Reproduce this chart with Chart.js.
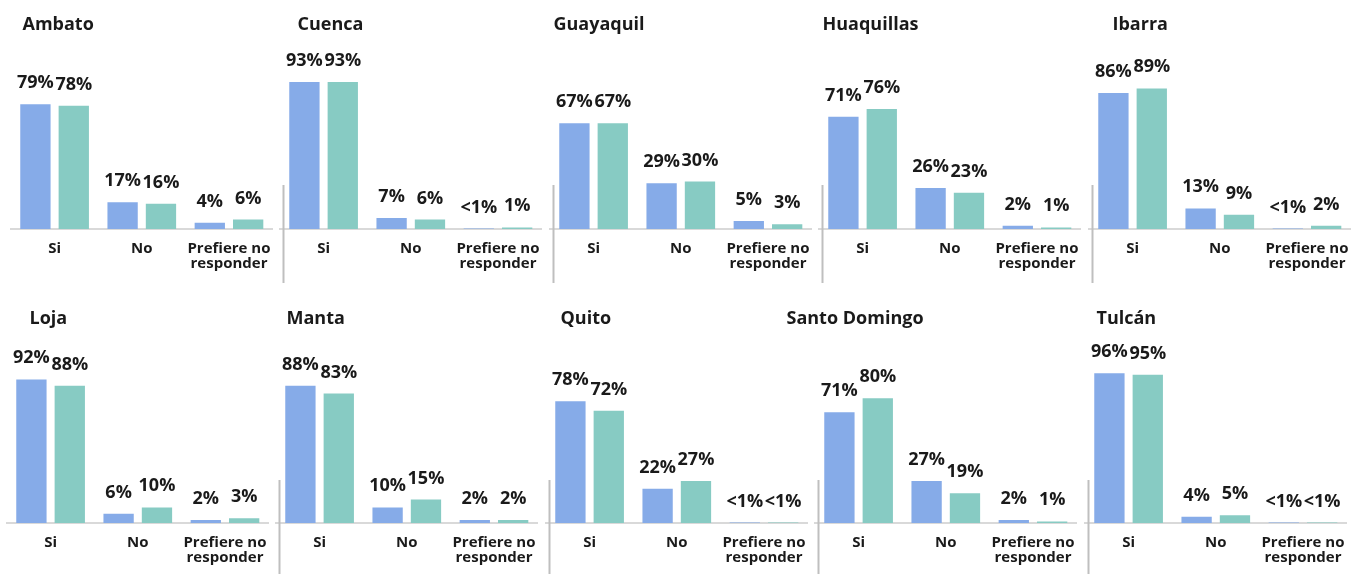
<!DOCTYPE html>
<html lang="es">
<head>
<meta charset="utf-8">
<title>Respuestas por ciudad</title>
<script src="https://cdn.jsdelivr.net/npm/chart.js@4.4.1/dist/chart.umd.min.js"></script>
<style>
  html, body { margin: 0; padding: 0; background: #ffffff; }
  #tablero { position: relative; width: 1354px; height: 574px; overflow: hidden; }
  #tablero canvas { position: absolute; }
</style>
</head>
<body>
<div id="tablero"></div>
<script>
// Ciudades y categorías de respuesta
const ciudades = ['Ambato', 'Cuenca', 'Guayaquil', 'Huaquillas', 'Ibarra',
                  'Loja', 'Manta', 'Quito', 'Santo Domingo', 'Tulcán'];
const categorias = ['Si', 'No', ['Prefiere no', 'responder']];

// Porcentajes por ciudad (Si, No, Prefiere no responder); 0.3 equivale a "<1%"
const serieAzul = [
  [79, 17, 4], [93, 7, 0.3], [67, 29, 5], [71, 26, 2], [86, 13, 0.3],
  [92, 6, 2], [88, 10, 2], [78, 22, 0.3], [71, 27, 2], [96, 4, 0.3]
];
const serieVerde = [
  [78, 16, 6], [93, 6, 1], [67, 30, 3], [76, 23, 1], [89, 9, 2],
  [88, 10, 3], [83, 15, 2], [72, 27, 0.3], [80, 19, 1], [95, 5, 0.3]
];

// Disposición de las dos filas de paneles (px); "plotLeft" es el borde del
// área de barras del primer panel de la fila
const filas = [
  { top: 0,   height: 288, plotTop: 71, axisY: 229, plotLeft: 10.5, sepTop: 185, sepBottom: 283 },
  { top: 290, height: 284, plotTop: 77, axisY: 233, plotLeft: 6.5,  sepTop: 190, sepBottom: 284 }
];
const paso = 269.6;
const anchoArea = 270;
const margenIzq = 50;   // espacio a la izquierda del área para títulos desplazados
const margenDer = 3;
// Desplazamiento horizontal de cada título respecto a la primera barra
const desplazamientoTitulo = [2, 8, -6, -6, 14, 13, 1, 5, -38, 2];

const FUENTE = '"Open Sans", "DejaVu Sans", sans-serif';
const COLOR_TEXTO = '#1a1a1a';

const formatoValor = v => (v < 1 ? '<1%' : Math.round(v) + '%');

// Rótulos de valor, título y separador de cada panel
const decoracion = {
  id: 'decoracion',
  afterDatasetsDraw(chart, args, opts) {
    const ctx = chart.ctx;
    const area = chart.chartArea;
    ctx.save();
    ctx.fillStyle = COLOR_TEXTO;
    ctx.textAlign = 'center';
    ctx.textBaseline = 'alphabetic';
    ctx.font = 'bold 18px ' + FUENTE;
    chart.data.datasets.forEach((ds, di) => {
      chart.getDatasetMeta(di).data.forEach((bar, j) => {
        ctx.fillText(formatoValor(ds.data[j]), bar.x, bar.y - 16);
      });
    });

    ctx.textAlign = 'left';
    ctx.font = 'bold 18px ' + FUENTE;
    ctx.fillText(opts.titulo, area.left + 9.5 + opts.desplazamiento, area.bottom - 199);

    if (opts.separador) {
      ctx.strokeStyle = '#BFBFBF';
      ctx.lineWidth = 2;
      ctx.beginPath();
      ctx.moveTo(area.left + 3.5, opts.sepTop);
      ctx.lineTo(area.left + 3.5, opts.sepBottom);
      ctx.stroke();
    }
    ctx.restore();
  }
};

const tablero = document.getElementById('tablero');

ciudades.forEach((ciudad, i) => {
  const fila = filas[Math.floor(i / 5)];
  const col = i % 5;
  const ancho = margenIzq + anchoArea + margenDer;
  const lienzo = document.createElement('canvas');
  lienzo.width = ancho;
  lienzo.height = fila.height;
  lienzo.style.width = ancho + 'px';
  lienzo.style.height = fila.height + 'px';
  lienzo.style.left = (fila.plotLeft + paso * col - margenIzq) + 'px';
  lienzo.style.top = fila.top + 'px';
  tablero.appendChild(lienzo);

  new Chart(lienzo, {
    type: 'bar',
    data: {
      labels: categorias,
      datasets: [
        { label: 'Serie 1', data: serieAzul[i], backgroundColor: '#86ABE8' },
        { label: 'Serie 2', data: serieVerde[i], backgroundColor: '#87CBC3' }
      ]
    },
    options: {
      responsive: false,
      animation: false,
      devicePixelRatio: 1,
      layout: { padding: { top: fila.plotTop, left: margenIzq, right: margenDer, bottom: 0 } },
      datasets: { bar: { categoryPercentage: 0.88, barPercentage: 0.79 } },
      plugins: {
        legend: { display: false },
        tooltip: { enabled: false },
        title: { display: false },
        decoracion: {
          titulo: ciudad,
          desplazamiento: desplazamientoTitulo[i],
          separador: col > 0,
          sepTop: fila.sepTop,
          sepBottom: fila.sepBottom
        }
      },
      scales: {
        x: {
          grid: { display: false, drawTicks: false },
          border: { display: true, color: '#D9D9D9', width: 2 },
          ticks: {
            color: COLOR_TEXTO,
            autoSkip: false,
            maxRotation: 0,
            padding: 13,
            font: { family: FUENTE, size: 15, weight: 'bold', lineHeight: 0.95 }
          },
          afterFit(scale) { scale.height = fila.height - fila.axisY; }
        },
        y: { display: false, min: 0, max: 100 }
      }
    },
    plugins: [decoracion]
  });
});
</script>
</body>
</html>
